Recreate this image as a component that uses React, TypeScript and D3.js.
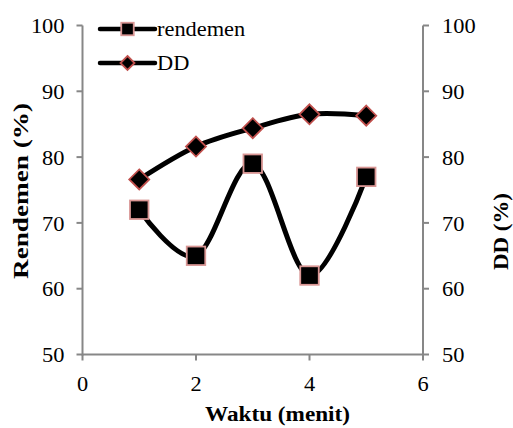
import * as d3 from 'd3';

const waktu = [1, 2, 3, 4, 5];
const rendemen = [72, 65, 79, 62, 77];
const dd = [76.6, 81.6, 84.4, 86.5, 86.3];
const xTicks = [0, 2, 4, 6];
const yTicks = [50, 60, 70, 80, 90, 100];

const WIDTH = 513;
const HEIGHT = 428;
const PLOT = { left: 82.5, right: 423, top: 25.5, bottom: 354.5 };
const AXIS_COLOR = '#878787';
const SQUARE_STROKE = '#d99694';
const DIAMOND_STROKE = '#c0504d';
const TEXT_STYLE = { fontFamily: "'Liberation Serif'" };
// the reference is stretched a little horizontally
const STRETCH = 1.12;

function Square({ x, y, size }: { x: number; y: number; size: number }) {
  return (
    <rect
      x={x - size / 2}
      y={y - size / 2}
      width={size}
      height={size}
      fill="#000"
      stroke={SQUARE_STROKE}
      strokeWidth={1.8}
    />
  );
}

function Diamond({ x, y, size }: { x: number; y: number; size: number }) {
  const h = size / 2;
  return (
    <path
      d={`M${x},${y - h}L${x + h},${y}L${x},${y + h}L${x - h},${y}Z`}
      fill="#000"
      stroke={DIAMOND_STROKE}
      strokeWidth={1.8}
    />
  );
}

function Label({
  x,
  y,
  anchor = 'start',
  dy,
  children,
}: {
  x: number;
  y: number;
  anchor?: 'start' | 'middle' | 'end';
  dy?: string;
  children: React.ReactNode;
}) {
  return (
    <text
      transform={`translate(${x}, ${y}) scale(${STRETCH}, 1)`}
      dy={dy}
      textAnchor={anchor}
      fontSize={20}
      style={TEXT_STYLE}
      fill="#000"
    >
      {children}
    </text>
  );
}

export default function App() {
  const xScale = d3.scaleLinear().domain([0, 6]).range([PLOT.left, PLOT.right]);
  const yScale = d3.scaleLinear().domain([50, 100]).range([PLOT.bottom, PLOT.top]);

  const line = d3
    .line<number>()
    .x((_d, i) => xScale(waktu[i]))
    .y(d => yScale(d))
    .curve(d3.curveCardinal.tension(0));

  return (
    <svg
      width={WIDTH}
      height={HEIGHT}
      style={{ position: 'absolute', left: 0, top: 0, background: '#fff' }}
    >
      {/* axes */}
      <line x1={PLOT.left} x2={PLOT.left} y1={PLOT.top} y2={PLOT.bottom + 1} stroke={AXIS_COLOR} strokeWidth={2} />
      <line x1={PLOT.right} x2={PLOT.right} y1={PLOT.top} y2={PLOT.bottom + 1} stroke={AXIS_COLOR} strokeWidth={2} />
      <line x1={PLOT.left} x2={PLOT.right} y1={PLOT.bottom} y2={PLOT.bottom} stroke={AXIS_COLOR} strokeWidth={2} />

      {yTicks.map(t => (
        <g key={`l${t}`}>
          <line x1={PLOT.left - 6} x2={PLOT.left} y1={yScale(t)} y2={yScale(t)} stroke={AXIS_COLOR} strokeWidth={2} />
          <Label x={PLOT.left - 18} y={yScale(t)} dy="0.38em" anchor="end">
            {t}
          </Label>
          <line x1={PLOT.right} x2={PLOT.right + 6} y1={yScale(t)} y2={yScale(t)} stroke={AXIS_COLOR} strokeWidth={2} />
          <Label x={PLOT.right + 19} y={yScale(t)} dy="0.38em">
            {t}
          </Label>
        </g>
      ))}

      {xTicks.map(t => (
        <g key={`x${t}`}>
          <line x1={xScale(t)} x2={xScale(t)} y1={PLOT.bottom} y2={PLOT.bottom + 6} stroke={AXIS_COLOR} strokeWidth={2} />
          <Label x={xScale(t)} y={391} anchor="middle">
            {t}
          </Label>
        </g>
      ))}

      {/* series */}
      <path d={line(dd) ?? ''} fill="none" stroke="#000" strokeWidth={5} />
      <path d={line(rendemen) ?? ''} fill="none" stroke="#000" strokeWidth={5} />
      {dd.map((v, i) => (
        <Diamond key={`d${i}`} x={xScale(waktu[i])} y={yScale(v)} size={20} />
      ))}
      {rendemen.map((v, i) => (
        <Square key={`r${i}`} x={xScale(waktu[i])} y={yScale(v)} size={18.5} />
      ))}

      {/* legend */}
      <line x1={100} x2={155} y1={29} y2={29} stroke="#000" strokeWidth={4.5} strokeLinecap="round" />
      <Square x={127.5} y={29} size={12.5} />
      <Label x={157} y={36}>rendemen</Label>
      <line x1={100} x2={155} y1={63} y2={63} stroke="#000" strokeWidth={4.5} strokeLinecap="round" />
      <Diamond x={127.5} y={63} size={14} />
      <Label x={157} y={70}>DD</Label>

      {/* axis titles */}
      <text
        transform={`translate(27.5, 191) rotate(-90)`}
        textAnchor="middle"
        fontSize={21}
        fontWeight="bold"
        textLength={176}
        lengthAdjust="spacingAndGlyphs"
        style={TEXT_STYLE}
        fill="#000"
      >
        Rendemen (%)
      </text>
      <text
        transform={`translate(508, 231.5) rotate(-90)`}
        textAnchor="middle"
        fontSize={21}
        fontWeight="bold"
        textLength={77}
        lengthAdjust="spacingAndGlyphs"
        style={TEXT_STYLE}
        fill="#000"
      >
        DD (%)
      </text>
      <text
        x={277.5}
        y={421}
        textAnchor="middle"
        fontSize={20}
        fontWeight="bold"
        textLength={145}
        lengthAdjust="spacingAndGlyphs"
        style={TEXT_STYLE}
        fill="#000"
      >
        Waktu (menit)
      </text>
    </svg>
  );
}
